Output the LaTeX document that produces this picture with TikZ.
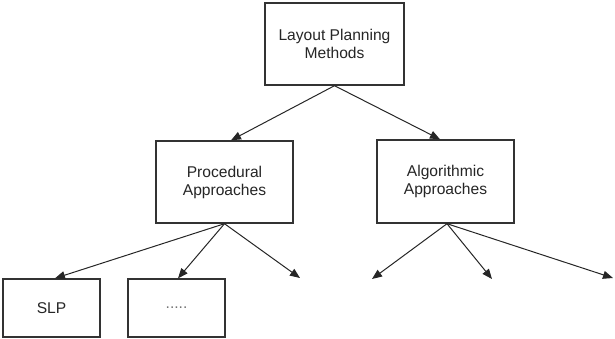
\documentclass[tikz,border=0pt]{standalone}
\usepackage{fontspec}
\setmainfont{Liberation Sans}
\usetikzlibrary{arrows.meta,calc}
\begin{document}
\begin{tikzpicture}[x=1pt,y=-1pt,
  box/.style={draw=black!80, line width=1.4pt, fill=white, inner sep=0pt,
    align=center, text=black!85, font=\fontsize{15.6}{18}\selectfont},
  link/.style={draw=black!85, line width=1pt,
    -{Triangle[length=10pt,width=8pt]}}]
  \useasboundingbox (0,0) rectangle (615,338);

  % boxes
  \node[box, minimum width=139pt, minimum height=82pt] (top) at (334.5,44)
    {Layout Planning\\Methods};
  \node[box, minimum width=137pt, minimum height=82pt] (proc) at (224.5,182)
    {Procedural\\Approaches};
  \node[box, minimum width=137pt, minimum height=83pt] (alg) at (445.5,181.5)
    {Algorithmic\\Approaches};
  \node[box, minimum width=97pt, minimum height=58pt] (slp) at (51.5,308)
    {SLP};
  \node[box, minimum width=97pt, minimum height=58pt, text=black!55] (dots)
    at (176.5,308) {.....};

  % open branch ends
  \coordinate (pr3) at (300,278);
  \coordinate (al1) at (372,279);
  \coordinate (al2) at (492,279);
  \coordinate (al3) at (613,278);

  % connectors
  \draw[link] (top.south) -- ($(proc.north)+(6.5,0)$);
  \draw[link] (top.south) -- ($(alg.north)+(-5.5,0)$);
  \draw[link] (proc.south) -- ($(slp.north)+(3.5,0)$);
  \draw[link] (proc.south) -- ($(dots.north)+(1.5,0)$);
  \draw[link] (proc.south) -- (pr3);
  \draw[link] ($(alg.south)+(1.5,0)$) -- (al1);
  \draw[link] ($(alg.south)+(1.5,0)$) -- (al2);
  \draw[link] ($(alg.south)+(1.5,0)$) -- (al3);
\end{tikzpicture}
\end{document}
